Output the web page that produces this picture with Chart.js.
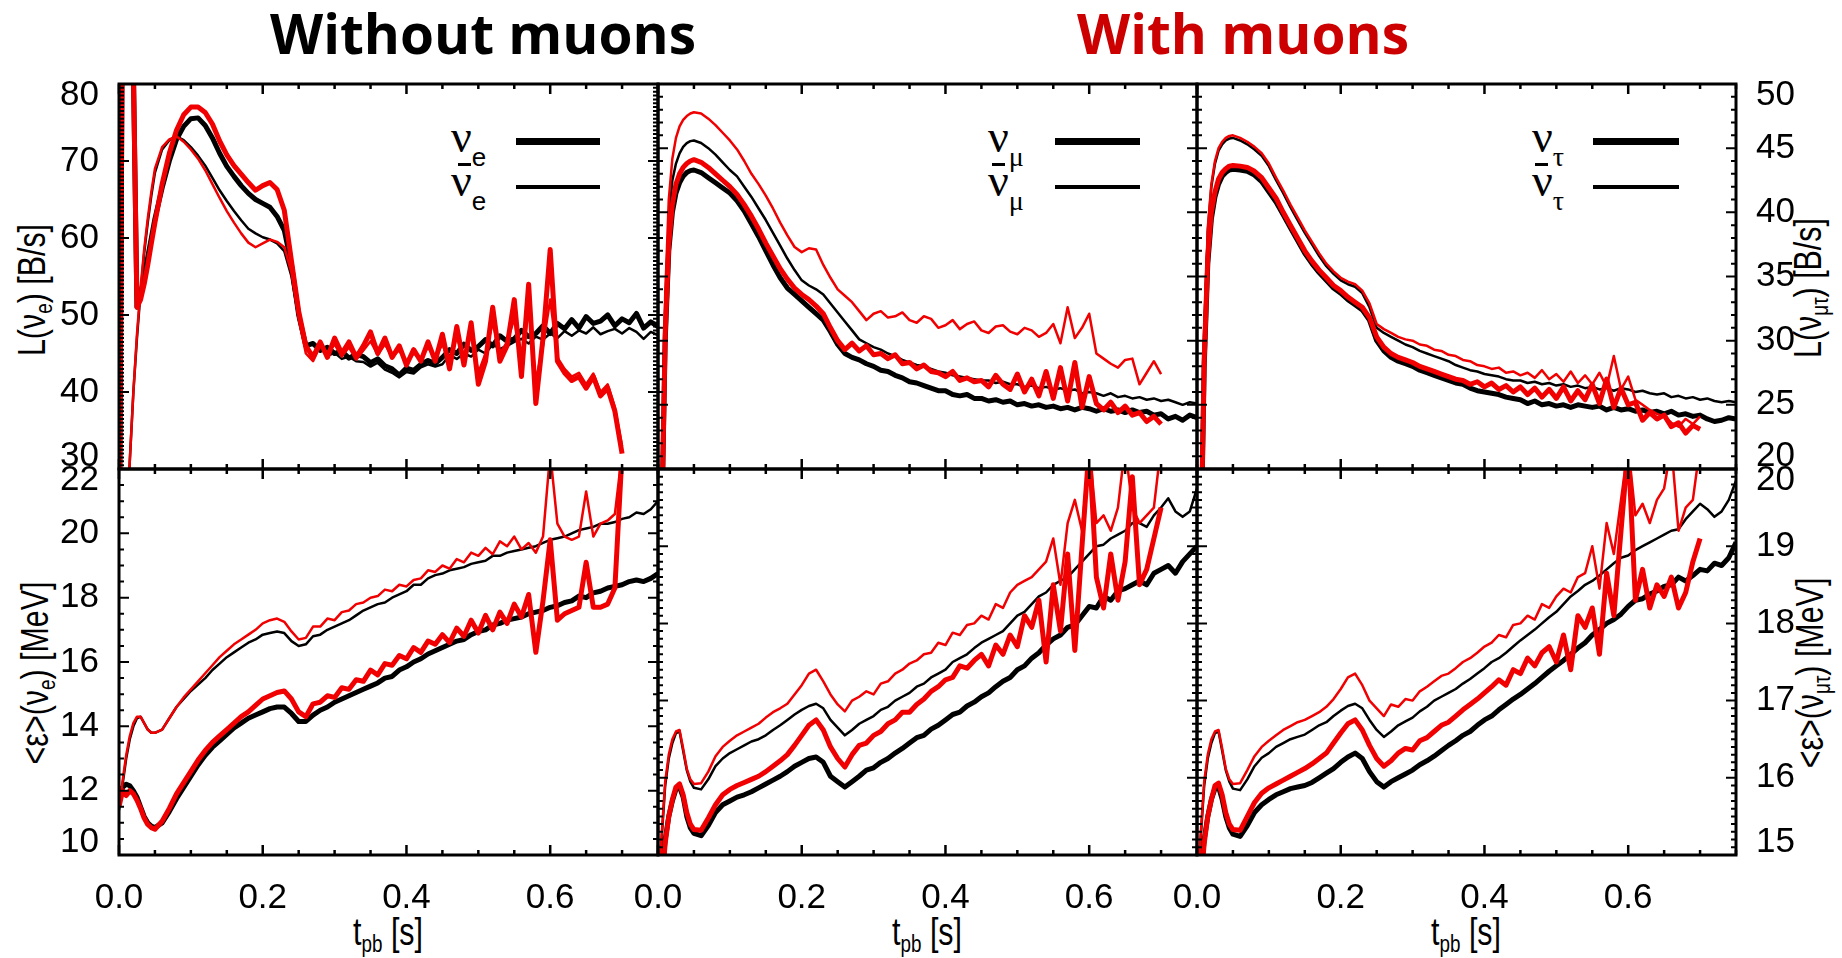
<!DOCTYPE html>
<html lang="en">
<head>
<meta charset="utf-8">
<title>Neutrino luminosities and mean energies</title>
<script src="https://cdn.jsdelivr.net/npm/chart.js@4.4.1/dist/chart.umd.min.js"></script>
<style>
  html, body { margin: 0; padding: 0; background: #fff; }
  body { position: relative; width: 1842px; height: 958px; overflow: hidden;
         font-family: 'Liberation Sans', Arial, sans-serif; color: #000; }
  canvas { position: absolute; }
  .title { position: absolute; top: 5px; transform: translateX(-50%); font: 700 55px 'Open Sans', sans-serif;
           line-height: 1; white-space: nowrap; }
  .ytitle { position: absolute; transform: translate(-50%, -50%) rotate(-90deg) scaleX(0.8); font-size: 38px;
            line-height: 1; white-space: nowrap; }
  .xtitle { position: absolute; transform: translateX(-50%) scaleX(0.8); font-size: 38px; line-height: 1; white-space: nowrap; }
  sub { font-size: 0.62em; vertical-align: -0.3em; line-height: 0; }
  .lg { position: absolute; font: 46px 'Liberation Serif', serif; line-height: 1; white-space: nowrap; }
  .lg .s { position: relative; top: 14px; font-size: 28px; }
  .lg .s.e { font-family: 'Liberation Sans', sans-serif; font-size: 26px; }
  .swatch { position: absolute; background: #000; }
</style>
</head>
<body>
<div class="title" style="left:483px">Without muons</div>
<div class="title" style="left:1243px; color:#cc0000">With muons</div>

<div class="ytitle" style="left:32px; top:290px">L(ν<sub>e</sub>) [B/s]</div>
<div class="ytitle" style="left:35px; top:673px">&lt;ε&gt;(ν<sub>e</sub>) [MeV]</div>
<div class="ytitle" style="left:1808px; top:288px">L(ν<sub>μτ</sub>) [B/s]</div>
<div class="ytitle" style="left:1810px; top:673px">&lt;ε&gt;(ν<sub>μτ</sub>) [MeV]</div>

<div class="xtitle" style="left:388px; top:913px">t<sub>pb</sub> [s]</div>
<div class="xtitle" style="left:927px; top:913px">t<sub>pb</sub> [s]</div>
<div class="xtitle" style="left:1466px; top:913px">t<sub>pb</sub> [s]</div>

<!-- legends: thick = neutrino, thin = antineutrino (bar over the second nu) -->
<div class="lg" style="left:451px; top:114px">ν<span class="s e">e</span></div>
<div class="lg" style="left:451px; top:158px">ν<span class="s e">e</span></div>
<div class="swatch" style="left:458px; top:163px; width:13px; height:3px"></div>
<div class="swatch" style="left:516px; top:138px; width:84px; height:7px"></div>
<div class="swatch" style="left:516px; top:185px; width:84px; height:4px"></div>

<div class="lg" style="left:988px; top:114px">ν<span class="s">μ</span></div>
<div class="lg" style="left:988px; top:158px">ν<span class="s">μ</span></div>
<div class="swatch" style="left:992px; top:163px; width:13px; height:3px"></div>
<div class="swatch" style="left:1055px; top:138px; width:85px; height:7px"></div>
<div class="swatch" style="left:1055px; top:185px; width:85px; height:4px"></div>

<div class="lg" style="left:1532px; top:114px">ν<span class="s">τ</span></div>
<div class="lg" style="left:1532px; top:158px">ν<span class="s">τ</span></div>
<div class="swatch" style="left:1535px; top:163px; width:13px; height:3px"></div>
<div class="swatch" style="left:1593px; top:138px; width:86px; height:7px"></div>
<div class="swatch" style="left:1593px; top:185px; width:86px; height:4px"></div>

<script>
// post-bounce time grid [s]
const T = [0, 0.005, 0.01, 0.015, 0.02, 0.025, 0.03, 0.035, 0.04, 0.045,
  0.05, 0.06, 0.07, 0.08, 0.09, 0.10, 0.11, 0.12, 0.13, 0.14,
  0.15, 0.16, 0.17, 0.18, 0.19, 0.20, 0.21, 0.22, 0.23, 0.24,
  0.25, 0.26, 0.27, 0.28, 0.29, 0.30, 0.31, 0.32, 0.33, 0.34,
  0.35, 0.36, 0.37, 0.38, 0.39, 0.40, 0.41, 0.42, 0.43, 0.44,
  0.45, 0.46, 0.47, 0.48, 0.49, 0.50, 0.51, 0.52, 0.53, 0.54,
  0.55, 0.56, 0.57, 0.58, 0.59, 0.60, 0.61, 0.62, 0.63, 0.64,
  0.65, 0.66, 0.67, 0.68, 0.69, 0.70, 0.71, 0.72, 0.73, 0.74, 0.75];

const X_TICKS = [0, 0.2, 0.4, 0.6];
const Y_TICKS_LUM_E = [30, 40, 50, 60, 70, 80];
const Y_TICKS_LUM_X = [20, 25, 30, 35, 40, 45, 50];
const Y_TICKS_EN_E = [10, 12, 14, 16, 18, 20, 22];
const Y_TICKS_EN_X = [15, 16, 17, 18, 19, 20];

// luminosities [B/s]; NOMU = run without muons, MU = run with muons
const L_NUE_NOMU = [10, 95, 110, 100, 82, 51, 52.5, 55, 57.5, 60,
  62.5, 66.5, 70, 72.8, 74.5, 75.5, 75.6, 74.6, 73, 71,
  69.3, 68, 66.8, 65.8, 65, 64.5, 64, 62.8, 61, 56.5,
  50, 46, 46.3, 45.4, 45.8, 45.0, 45.3, 44.4, 44.9, 44.6,
  43.8, 44.3, 43.4, 43.0, 42.2, 43.1, 42.8, 43.6, 44.1, 43.7,
  44.5, 45.5, 45.0, 46.2, 45.4, 45.9, 46.8, 46.0, 47.3, 46.6,
  46.9, 48.0, 47.2, 47.6, 48.6, 47.6, 48.9, 48.2, 49.4, 48.3,
  49.8, 48.9, 49.2, 50.0, 48.6, 49.5, 49.0, 50.2, 48.3, 49.1, 48.5];
const L_ANUE_NOMU = [0, 8, 20, 31, 40, 47, 53, 58, 62, 65.5,
  68.5, 71.5, 72.7, 73.2, 72.7, 71.8, 70.7, 69.4, 67.8, 66.2,
  64.8, 63.5, 62.3, 61.2, 60.6, 60.1, 59.8, 59.3, 58.3, 55,
  49.5, 45.5, 45.0, 45.8, 44.7, 45.1, 44.3, 44.6, 44.0, 43.9,
  43.3, 43.8, 42.9, 42.5, 41.9, 42.6, 42.4, 43.2, 43.6, 43.3,
  43.6, 44.8, 44.3, 45.0, 44.6, 45.5, 45.0, 46.2, 45.6, 46.0,
  46.5, 46.9, 46.3, 47.2, 46.8, 47.6, 47.0, 47.9, 47.3, 48.0,
  47.6, 48.4, 47.5, 47.9, 48.2, 47.6, 48.3, 47.8, 46.9, 47.8, 47.4];
const L_NUE_MU = [10, 95, 110, 100, 82, 51, 52, 54, 56.5, 59.3,
  62, 67, 71, 74, 76, 77, 77, 76.3, 74.8, 72.6,
  70.8, 69.4, 68.3, 67.2, 66.2, 66.8, 67.2, 66.3, 63.6, 57,
  50.5, 46, 44.5, 46.5, 44.5, 47, 45, 46.5, 44.5, 46,
  47.8, 45, 47, 44.5, 46, 43.5, 45.5, 44, 46.5, 44,
  47.5, 43, 48.5, 43.5, 49, 41, 44, 51, 44, 46,
  52, 42, 54, 38.5, 47, 58.5, 44, 42.5, 41.5, 42,
  40.5, 42, 39.5, 40.5, 37.5, 32];
const L_ANUE_MU = [0, 8, 20, 31, 40, 47.5, 53.5, 58.5, 62.5, 66,
  69, 71.8, 72.8, 73.2, 72.5, 71.5, 70.3, 68.8, 67, 65.2,
  63.5, 62, 60.6, 59.4, 58.8, 59.3, 59.8, 59.5, 58.8, 55.5,
  49.5, 45, 44, 46, 45, 46.2, 44.6, 45.8, 44.2, 45.4,
  46.6, 44.8, 46.2, 44.6, 45.4, 43.8, 45, 44.4, 45.8, 44.4,
  46.2, 43.8, 47.2, 44.2, 47.8, 42.5, 45, 49, 45, 46.5,
  49.5, 43.5, 51, 41.5, 46, 52, 44.5, 43, 42, 42.5,
  41, 42.4, 40, 41, 38, 33];

const L_NUMU_NOMU = [0, 15, 30, 37, 40, 41.5, 42.3, 42.8, 43.1, 43.25,
  43.3, 43.1, 42.7, 42.3, 41.9, 41.5, 40.9, 40.1, 39.1, 38.1,
  37, 35.9, 34.9, 34.1, 33.6, 33.1, 32.6, 32.1, 31.6, 30.7,
  29.7, 29.0, 28.7, 28.5, 28.2, 28.0, 27.7, 27.6, 27.3, 27.1,
  26.8, 26.7, 26.5, 26.3, 26.1, 26.1, 25.8, 25.7, 25.8, 25.5,
  25.5, 25.3, 25.4, 25.2, 25.3, 25.0, 25.1, 24.9, 25.0, 24.8,
  24.9, 24.7, 24.8, 24.6, 24.8, 24.7, 24.5, 24.7, 24.5, 24.6,
  24.4, 24.6, 24.4, 24.5, 24.2, 24.3, 23.9, 24.1, 23.8, 24.2, 24.0];
const L_ANUMU_NOMU = [0, 16, 32, 39.5, 42.5, 43.8, 44.6, 45.1, 45.4, 45.55,
  45.6, 45.4, 45.0, 44.5, 43.9, 43.3, 42.8, 42.0, 41.2, 40.3,
  39.4, 38.4, 37.4, 36.4, 35.5, 34.7, 34.3, 34.0, 33.6, 32.9,
  32.2, 31.5, 30.8, 30.1, 29.8, 29.5, 29.3, 29.0, 28.8, 28.5,
  28.3, 28.1, 28.0, 27.8, 27.6, 27.5, 27.3, 27.2, 27.1, 27.0,
  26.9, 26.9, 26.7, 26.8, 26.6, 26.6, 26.4, 26.5, 26.3, 26.4,
  26.2, 26.3, 26.1, 26.2, 25.9, 26.0, 25.9, 25.7, 25.9, 25.6,
  25.7, 25.5, 25.6, 25.4, 25.5, 25.3, 25.4, 25.2, 25.0, 25.2, 25.1];
const L_NUMU_MU = [0, 15, 30.5, 37.5, 40.6, 42.2, 43.0, 43.5, 43.8, 44.0,
  44.1, 43.9, 43.5, 43.0, 42.5, 42.0, 41.4, 40.6, 39.7, 38.7,
  37.6, 36.6, 35.6, 34.8, 34.1, 33.6, 33.2, 32.7, 32.1, 31.0,
  30.0, 29.3, 29.8, 29.2, 29.6, 28.9, 29.0, 28.6, 28.9, 28.2,
  28.3, 27.8, 28.1, 27.6, 27.5, 27.2, 27.6, 26.9, 27.1, 26.8,
  26.9, 26.4, 27.3, 26.6, 26.2, 27.4, 26.0, 27.0, 25.7, 27.6,
  25.5, 27.9, 25.3, 28.3, 24.8, 27.2, 25.1, 24.6, 25.2, 24.4,
  24.9, 24.2, 24.4, 23.7, 24.1, 23.5];
const L_ANUMU_MU = [0, 17, 33.5, 41, 44.2, 45.8, 46.7, 47.2, 47.5, 47.7,
  47.8, 47.7, 47.3, 46.8, 46.2, 45.6, 44.9, 44.0, 43.0, 42.2,
  41.3, 40.3, 39.2, 38.2, 37.3, 36.9, 37.2, 37.1, 35.9, 34.9,
  34.0, 33.5, 33.0, 32.3, 31.6, 32.1, 32.3, 31.8, 31.9, 32.2,
  31.6, 31.4, 31.9, 31.7, 31.0, 31.2, 31.6, 30.9, 31.3, 31.5,
  30.8, 30.6, 31.1, 31.2, 30.7, 30.5, 31.0, 30.8, 30.3, 30.6,
  31.3, 29.8, 32.6, 30.2, 31.0, 32.1, 29.0, 28.6, 28.2, 27.9,
  28.5, 28.6, 26.6, 27.5, 28.4, 27.4];

const L_NUTAU_NOMU = [0, 12, 28, 36, 39.5, 41.2, 42.2, 42.8, 43.1, 43.3,
  43.35, 43.3, 43.2, 42.9, 42.4, 41.6, 40.8, 39.8, 38.8, 37.8,
  36.8, 36.0, 35.3, 34.7, 34.1, 33.7, 33.2, 32.8, 32.4, 31.6,
  30.0, 29.2, 28.7, 28.4, 28.2, 28.0, 27.7, 27.5, 27.3, 27.1,
  26.9, 26.7, 26.6, 26.3, 26.1, 26.0, 25.9, 25.8, 25.6, 25.5,
  25.4, 25.1, 25.3, 25.0, 25.1, 24.9, 25.0, 24.8, 25.0, 24.9,
  24.8, 24.9, 24.6, 24.8, 24.6, 24.7, 24.5, 24.6, 24.4, 24.5,
  24.3, 24.5, 24.2, 24.3, 24.1, 24.2, 23.9, 23.7, 23.8, 24.0, 23.9];
const L_ANUTAU_NOMU = [0, 13, 30, 38.5, 42, 43.8, 44.8, 45.3, 45.6, 45.75,
  45.8, 45.6, 45.3, 44.9, 44.4, 43.6, 42.5, 41.5, 40.4, 39.4,
  38.4, 37.5, 36.6, 35.8, 35.2, 34.7, 34.4, 34.2, 33.7, 32.6,
  31.0, 30.6, 30.3, 30.0, 29.7, 29.5, 29.2, 29.0, 28.8, 28.6,
  28.4, 28.1, 27.9, 27.7, 27.6, 27.4, 27.3, 27.2, 27.0, 26.9,
  26.9, 26.7, 26.8, 26.6, 26.7, 26.5, 26.6, 26.4, 26.5, 26.3,
  26.4, 26.2, 26.3, 26.1, 26.3, 26.2, 26.0, 26.1, 25.9, 25.8,
  25.9, 25.6, 25.7, 25.5, 25.6, 25.4, 25.5, 25.3, 25.2, 25.3, 25.2];
const L_NUTAU_MU = [0, 12.5, 28.5, 36.5, 40, 41.6, 42.6, 43.1, 43.4, 43.6,
  43.65, 43.6, 43.5, 43.2, 42.7, 41.9, 41.1, 40.0, 39.0, 38.0,
  37.0, 36.2, 35.5, 34.9, 34.3, 33.9, 33.4, 33.0, 32.6, 31.8,
  30.3, 29.5, 29.0, 28.7, 28.5, 28.3, 28.0, 27.8, 27.6, 27.4,
  27.2, 27.0, 26.9, 26.6, 26.8, 26.4, 26.7, 26.2, 26.5, 26.0,
  26.4, 25.8, 26.3, 25.6, 26.2, 25.5, 26.4, 25.3, 26.1, 25.4,
  26.6, 25.1, 27.0, 24.8, 26.3, 25.0, 25.2, 23.8, 24.4, 23.9,
  24.2, 23.3, 23.6, 22.8, 23.4, 23.1];
const L_ANUTAU_MU = [0, 13.5, 30.5, 38.8, 42.2, 44.0, 45.0, 45.5, 45.8, 45.95,
  46.0, 45.8, 45.5, 45.1, 44.6, 43.8, 42.7, 41.7, 40.6, 39.6,
  38.6, 37.7, 36.8, 36.0, 35.4, 34.9, 34.6, 34.4, 33.9, 32.9,
  31.3, 30.9, 30.6, 30.3, 30.1, 30.0, 29.7, 29.6, 29.3, 29.2,
  28.9, 28.8, 28.5, 28.4, 28.1, 28.0, 27.8, 27.9, 27.5, 27.6,
  27.3, 27.5, 27.1, 27.7, 27.0, 27.4, 26.8, 27.6, 26.7, 27.3,
  26.6, 27.5, 26.4, 28.8, 26.2, 27.2, 25.4, 25.0, 24.6, 24.3,
  24.1, 23.6, 23.3, 23.9, 23.5, 24.1];

// mean energies [MeV]
const E_NUE_NOMU = [11.8, 12.1, 12.2, 12.15, 12.0, 11.8, 11.5, 11.2, 11.0, 10.9,
  10.85, 11.0, 11.35, 11.75, 12.1, 12.45, 12.8, 13.1, 13.35, 13.55,
  13.75, 13.95, 14.1, 14.25, 14.35, 14.45, 14.55, 14.6, 14.6, 14.4,
  14.15, 14.15, 14.35, 14.5, 14.6, 14.75, 14.85, 14.95, 15.05, 15.15,
  15.25, 15.35, 15.5, 15.55, 15.75, 15.85, 16.0, 16.1, 16.25, 16.35,
  16.45, 16.55, 16.65, 16.7, 16.85, 16.95, 17.0, 17.15, 17.2, 17.3,
  17.35, 17.4, 17.5, 17.55, 17.6, 17.7, 17.75, 17.85, 17.9, 18.05,
  18.0, 18.15, 18.2, 18.3, 18.35, 18.4, 18.5, 18.55, 18.5, 18.6, 18.75];
const E_ANUE_NOMU = [11.4, 12.2, 13.0, 13.6, 14.0, 14.25, 14.3, 14.1, 13.9, 13.8,
  13.8, 13.9, 14.25, 14.6, 14.85, 15.1, 15.3, 15.5, 15.75, 15.95,
  16.15, 16.3, 16.45, 16.6, 16.7, 16.85, 16.9, 16.95, 16.9, 16.65,
  16.5, 16.55, 16.8, 16.85, 17.0, 17.1, 17.2, 17.3, 17.45, 17.6,
  17.7, 17.8, 17.85, 18.0, 18.1, 18.2, 18.4, 18.4, 18.6, 18.7,
  18.75, 18.85, 18.9, 18.95, 19.05, 19.1, 19.15, 19.3, 19.3, 19.4,
  19.45, 19.5, 19.55, 19.6, 19.7, 19.8, 19.85, 19.9, 20.0, 20.1,
  20.15, 20.2, 20.3, 20.3, 20.35, 20.45, 20.5, 20.65, 20.6, 20.75, 21.0];
const E_NUE_MU = [11.5, 12.0, 11.85, 12.0, 11.9, 11.7, 11.45, 11.15, 10.95, 10.85,
  10.8, 11.05, 11.45, 11.9, 12.25, 12.6, 12.95, 13.25, 13.5, 13.7,
  13.9, 14.1, 14.3, 14.45, 14.65, 14.85, 14.95, 15.05, 15.1, 14.85,
  14.45, 14.3, 14.7, 14.75, 14.95, 14.9, 15.2, 15.15, 15.45, 15.4,
  15.75, 15.6, 15.95, 15.9, 16.2, 16.1, 16.45, 16.3, 16.65, 16.55,
  16.85, 16.6, 17.05, 16.8, 17.3, 16.9, 17.45, 17.0, 17.55, 17.2,
  17.8, 17.4, 18.1, 16.3, 17.9, 19.8, 17.3, 17.5, 17.6, 17.7,
  19.1, 17.7, 17.7, 17.8, 18.3, 22.5];
const E_ANUE_MU = [11.5, 12.3, 13.1, 13.7, 14.1, 14.3, 14.3, 14.1, 13.9, 13.8,
  13.8, 13.9, 14.25, 14.6, 14.9, 15.15, 15.4, 15.65, 15.9, 16.15,
  16.35, 16.55, 16.7, 16.85, 17.0, 17.2, 17.3, 17.35, 17.25, 16.95,
  16.7, 16.75, 17.1, 17.1, 17.35, 17.3, 17.55, 17.6, 17.8, 17.85,
  18.0, 18.05, 18.25, 18.2, 18.4, 18.35, 18.55, 18.6, 18.85, 18.8,
  19.0, 18.9, 19.2, 19.1, 19.4, 19.3, 19.55, 19.35, 19.75, 19.6,
  19.9, 19.5, 19.7, 19.4, 19.9, 22.5, 20.3, 19.9, 19.8, 19.9,
  21.3, 19.9, 20.3, 20.4, 20.6, 22.5];

const E_NUMU_NOMU = [14.0, 14.7, 15.2, 15.5, 15.7, 15.85, 15.88, 15.75, 15.5, 15.35,
  15.28, 15.25, 15.38, 15.55, 15.65, 15.7, 15.75, 15.78, 15.82, 15.87,
  15.92, 15.97, 16.02, 16.08, 16.15, 16.2, 16.25, 16.27, 16.2, 16.02,
  15.95, 15.88, 15.95, 16.02, 16.1, 16.13, 16.2, 16.25, 16.32, 16.38,
  16.45, 16.52, 16.55, 16.63, 16.68, 16.75, 16.82, 16.85, 16.93, 16.98,
  17.05, 17.1, 17.18, 17.25, 17.3, 17.4, 17.45, 17.55, 17.62, 17.72,
  17.8, 17.85, 17.95, 17.98, 18.1, 18.22, 18.2, 18.35, 18.3, 18.42,
  18.45, 18.5, 18.55, 18.5, 18.65, 18.7, 18.75, 18.65, 18.8, 18.9, 19.0];
const E_ANUMU_NOMU = [14.2, 15.2, 15.9, 16.25, 16.45, 16.58, 16.6, 16.35, 16.1, 15.95,
  15.87, 15.85, 15.98, 16.15, 16.25, 16.32, 16.37, 16.42, 16.47, 16.5,
  16.55, 16.62, 16.68, 16.75, 16.82, 16.88, 16.93, 16.96, 16.9, 16.75,
  16.65, 16.55, 16.62, 16.7, 16.75, 16.8, 16.88, 16.92, 17.0, 17.05,
  17.1, 17.18, 17.22, 17.3, 17.35, 17.4, 17.5, 17.55, 17.6, 17.68,
  17.75, 17.8, 17.85, 17.9, 18.0, 18.1, 18.15, 18.25, 18.35, 18.4,
  18.5, 18.55, 18.6, 18.7, 18.8, 18.9, 19.0, 19.02, 19.1, 19.15,
  19.2, 19.3, 19.3, 19.25, 19.4, 19.5, 19.62, 19.45, 19.38, 19.45, 19.75];
const E_NUMU_MU = [13.8, 14.6, 15.15, 15.5, 15.72, 15.88, 15.92, 15.78, 15.55, 15.4,
  15.33, 15.32, 15.48, 15.65, 15.78, 15.85, 15.9, 15.94, 15.98, 16.02,
  16.08, 16.15, 16.22, 16.3, 16.42, 16.55, 16.68, 16.75, 16.62, 16.4,
  16.25, 16.14, 16.3, 16.42, 16.45, 16.55, 16.6, 16.7, 16.75, 16.85,
  16.85, 16.95, 17.02, 17.12, 17.18, 17.27, 17.3, 17.45, 17.42, 17.52,
  17.6, 17.45, 17.72, 17.6, 17.85, 17.7, 18.1, 17.95, 18.3, 17.5,
  18.5, 17.9, 18.9, 17.65, 19.0, 20.3, 18.6, 18.2, 18.9, 18.3,
  18.8, 19.9, 18.5, 18.7, 19.1, 19.5];
const E_ANUMU_MU = [14.3, 15.25, 15.95, 16.3, 16.5, 16.6, 16.62, 16.38, 16.12, 15.98,
  15.92, 15.93, 16.08, 16.28, 16.4, 16.48, 16.55, 16.6, 16.65, 16.7,
  16.78, 16.85, 16.9, 16.96, 17.08, 17.2, 17.35, 17.4, 17.25, 17.08,
  16.95, 16.86, 17.0, 17.05, 17.12, 17.08, 17.22, 17.25, 17.35, 17.4,
  17.48, 17.52, 17.6, 17.62, 17.75, 17.72, 17.88, 17.85, 17.98, 18.0,
  18.1, 18.05, 18.25, 18.2, 18.4, 18.5, 18.55, 18.6, 18.7, 18.8,
  19.1, 18.5, 19.3, 19.6, 19.2, 20.3, 19.3, 19.4, 19.2, 19.5,
  20.3, 19.5, 19.3, 19.4, 19.5, 20.3];

const E_NUTAU_NOMU = [14.0, 14.7, 15.2, 15.5, 15.72, 15.86, 15.88, 15.72, 15.5, 15.35,
  15.27, 15.24, 15.38, 15.55, 15.65, 15.72, 15.78, 15.82, 15.86, 15.88,
  15.9, 15.94, 16.0, 16.06, 16.12, 16.2, 16.27, 16.32, 16.25, 16.08,
  15.95, 15.88, 15.95, 16.0, 16.05, 16.1, 16.17, 16.22, 16.28, 16.35,
  16.42, 16.48, 16.55, 16.6, 16.68, 16.75, 16.8, 16.88, 16.95, 17.02,
  17.08, 17.15, 17.22, 17.3, 17.38, 17.45, 17.52, 17.6, 17.68, 17.75,
  17.85, 17.92, 18.0, 18.05, 18.12, 18.22, 18.3, 18.32, 18.38, 18.42,
  18.48, 18.5, 18.6, 18.55, 18.62, 18.7, 18.68, 18.78, 18.75, 18.85, 19.05];
const E_ANUTAU_NOMU = [14.2, 15.2, 15.9, 16.25, 16.45, 16.58, 16.6, 16.35, 16.1, 15.95,
  15.86, 15.84, 15.98, 16.15, 16.26, 16.32, 16.4, 16.45, 16.5, 16.53,
  16.56, 16.62, 16.68, 16.72, 16.8, 16.87, 16.93, 16.96, 16.9, 16.75,
  16.62, 16.53, 16.6, 16.68, 16.73, 16.78, 16.86, 16.92, 17.0, 17.05,
  17.1, 17.15, 17.22, 17.28, 17.35, 17.42, 17.5, 17.55, 17.62, 17.7,
  17.78, 17.85, 17.92, 18.0, 18.08, 18.15, 18.25, 18.35, 18.42, 18.5,
  18.55, 18.62, 18.7, 18.78, 18.85, 18.88, 18.95, 19.0, 19.05, 19.1,
  19.15, 19.2, 19.22, 19.35, 19.45, 19.55, 19.48, 19.38, 19.45, 19.6, 19.85];
const E_NUTAU_MU = [13.8, 14.6, 15.15, 15.5, 15.72, 15.9, 15.93, 15.78, 15.55, 15.4,
  15.33, 15.32, 15.5, 15.68, 15.8, 15.87, 15.92, 15.97, 16.02, 16.07,
  16.12, 16.18, 16.25, 16.32, 16.45, 16.58, 16.7, 16.75, 16.62, 16.42,
  16.25, 16.15, 16.22, 16.32, 16.38, 16.36, 16.48, 16.52, 16.6, 16.68,
  16.72, 16.8, 16.88, 16.95, 17.02, 17.1, 17.18, 17.27, 17.2, 17.4,
  17.35, 17.55, 17.45, 17.62, 17.7, 17.5, 17.85, 17.4, 18.1, 17.95,
  18.2, 17.6, 18.65, 18.1, 19.2, 20.3, 18.3, 18.7, 18.2, 18.5,
  18.35, 18.6, 18.2, 18.4, 18.8, 19.1];
const E_ANUTAU_MU = [14.3, 15.25, 15.95, 16.3, 16.5, 16.6, 16.62, 16.38, 16.12, 15.98,
  15.92, 15.93, 16.1, 16.28, 16.4, 16.48, 16.55, 16.62, 16.67, 16.72,
  16.75, 16.8, 16.85, 16.92, 17.02, 17.15, 17.3, 17.35, 17.2, 17.0,
  16.9, 16.8, 16.95, 16.92, 17.02, 17.0, 17.12, 17.18, 17.25, 17.32,
  17.35, 17.42, 17.5, 17.55, 17.62, 17.7, 17.75, 17.85, 17.82, 17.98,
  18.0, 18.1, 18.05, 18.25, 18.2, 18.35, 18.45, 18.4, 18.6, 18.65,
  19.0, 18.45, 19.3, 18.9, 19.6, 20.3, 19.4, 19.55, 19.3, 19.6,
  19.75, 20.3, 19.2, 19.5, 19.6, 20.3];

Chart.defaults.font.family = "'Liberation Sans', Arial, sans-serif";
Chart.defaults.color = '#000';

const RED = '#f00000';
const BLACK = '#000000';
const THICK = 5;
const THIN = 2.5;

const COL_LEFT = [119, 658, 1197];
const ROW_TOP = [84, 469];
const PANEL_W = 539;
const ROW_H = [385, 386];
const SIDE = 100;     // room for y tick labels
const BELOW = 90;     // room for x tick labels
const ABOVE = 14;
const TICK_FONT = { size: 35 };

// box around the plot area with inward major/minor ticks on all four sides
const frameTicks = {
  id: 'frameTicks',
  afterDatasetsDraw(chart, args, opts) {
    const { ctx, chartArea: a } = chart;
    const xs = chart.scales.x, ys = chart.scales.y;
    ctx.save();
    ctx.strokeStyle = '#000';
    ctx.lineWidth = 2.5;
    ctx.beginPath();
    for (let i = 0; i <= 15; i++) {
      const px = xs.getPixelForValue(i * 0.05);
      const len = i % 4 === 0 ? 10 : 5;
      ctx.moveTo(px, a.bottom); ctx.lineTo(px, a.bottom - len);
      ctx.moveTo(px, a.top); ctx.lineTo(px, a.top + len);
    }
    ctx.stroke();
    ctx.lineWidth = 2;
    ctx.beginPath();
    const n = Math.round((ys.max - ys.min) / opts.minor);
    const every = Math.round(opts.major / opts.minor);
    for (let i = 0; i <= n; i++) {
      const py = ys.getPixelForValue(ys.min + i * opts.minor);
      const len = i % every === 0 ? 10 : 5;
      ctx.moveTo(a.left, py); ctx.lineTo(a.left + len, py);
      ctx.moveTo(a.right, py); ctx.lineTo(a.right - len, py);
    }
    ctx.stroke();
    ctx.lineWidth = 3;
    ctx.strokeRect(a.left, a.top, a.right - a.left, a.bottom - a.top);
    ctx.restore();
  }
};

// pull the end labels of the y axis inside the panel height
const edgeLabels = {
  id: 'edgeLabels',
  beforeDraw(chart) {
    const s = chart.scales.y;
    if (!s.options.display) return;
    const items = s.getLabelItems();
    if (items.shifted) return;
    items.shifted = true;
    for (const it of items) {
      const tr = it.options.translation;
      if (Math.abs(tr[1] - s.top) < 1) tr[1] += 11;
      else if (Math.abs(tr[1] - s.bottom) < 1) tr[1] -= 13;
    }
  }
};

function line(values, color, width) {
  return {
    data: values.map((v, i) => ({ x: T[i], y: v })),
    borderColor: color,
    borderWidth: width,
    pointRadius: 0,
    tension: 0,
    fill: false,
    borderJoinStyle: 'round'
  };
}

const panels = [
  { col: 0, row: 0, range: [30, 80], ticks: Y_TICKS_LUM_E, major: 10, minor: 0.5,
    series: [L_NUE_MU, L_ANUE_MU, L_NUE_NOMU, L_ANUE_NOMU] },
  { col: 1, row: 0, range: [20, 50], ticks: Y_TICKS_LUM_X, major: 5, minor: 1,
    series: [L_NUMU_MU, L_ANUMU_MU, L_NUMU_NOMU, L_ANUMU_NOMU] },
  { col: 2, row: 0, range: [20, 50], ticks: Y_TICKS_LUM_X, major: 5, minor: 1,
    series: [L_NUTAU_MU, L_ANUTAU_MU, L_NUTAU_NOMU, L_ANUTAU_NOMU] },
  { col: 0, row: 1, range: [10, 22], ticks: Y_TICKS_EN_E, major: 2, minor: 0.5,
    series: [E_NUE_MU, E_ANUE_MU, E_NUE_NOMU, E_ANUE_NOMU] },
  { col: 1, row: 1, range: [15, 20], ticks: Y_TICKS_EN_X, major: 1, minor: 0.1,
    series: [E_NUMU_MU, E_ANUMU_MU, E_NUMU_NOMU, E_ANUMU_NOMU] },
  { col: 2, row: 1, range: [15, 20], ticks: Y_TICKS_EN_X, major: 1, minor: 0.1,
    series: [E_NUTAU_MU, E_ANUTAU_MU, E_NUTAU_NOMU, E_ANUTAU_NOMU] }
];

// fixed axis box sizes so every panel's plot area lands on the same grid
function fixAxisBox(s, size) {
  if (s.options.display) {
    if (s.isHorizontal()) s.height = size; else s.width = size;
  }
  s.paddingLeft = 0; s.paddingRight = 0; s.paddingTop = 0; s.paddingBottom = 0;
}

panels.forEach(p => {
  const yPos = p.col === 0 ? 'left' : 'right';
  const showY = p.col !== 1;
  const showX = p.row === 1;
  const c = document.createElement('canvas');
  const w = PANEL_W + 2 * SIDE;
  const h = ROW_H[p.row] + ABOVE + BELOW;
  c.width = w;
  c.height = h;
  c.style.left = (COL_LEFT[p.col] - SIDE) + 'px';
  c.style.top = (ROW_TOP[p.row] - ABOVE) + 'px';
  c.style.width = w + 'px';
  c.style.height = h + 'px';
  document.body.appendChild(c);

  const [muThick, muThin, noThick, noThin] = p.series;
  new Chart(c, {
    type: 'line',
    data: {
      datasets: [
        line(muThick, RED, THICK),
        line(muThin, RED, THIN),
        line(noThick, BLACK, THICK),
        line(noThin, BLACK, THIN)
      ]
    },
    options: {
      responsive: false,
      animation: false,
      devicePixelRatio: 1,
      events: [],
      layout: {
        padding: {
          left: showY && yPos === 'left' ? 0 : SIDE,
          right: showY && yPos === 'right' ? 0 : SIDE,
          top: ABOVE,
          bottom: showX ? 0 : BELOW
        }
      },
      plugins: {
        legend: { display: false },
        tooltip: { enabled: false },
        frameTicks: { major: p.major, minor: p.minor }
      },
      scales: {
        x: {
          type: 'linear', min: 0, max: 0.75, position: 'bottom',
          display: showX,
          grid: { display: false },
          border: { display: false },
          ticks: { font: TICK_FONT, padding: 14, autoSkip: false, maxRotation: 0, minRotation: 0,
                   callback: v => v.toFixed(1) },
          afterBuildTicks: s => { s.ticks = X_TICKS.map(v => ({ value: v })); },
          afterFit: s => fixAxisBox(s, BELOW)
        },
        y: {
          type: 'linear', min: p.range[0], max: p.range[1],
          position: yPos,
          display: showY,
          grid: { display: false },
          border: { display: false },
          ticks: { font: TICK_FONT, padding: 12, autoSkip: false },
          afterBuildTicks: s => { s.ticks = p.ticks.map(v => ({ value: v })); },
          afterFit: s => fixAxisBox(s, SIDE)
        }
      }
    },
    plugins: [frameTicks, edgeLabels]
  });
});
</script>
</body>
</html>
